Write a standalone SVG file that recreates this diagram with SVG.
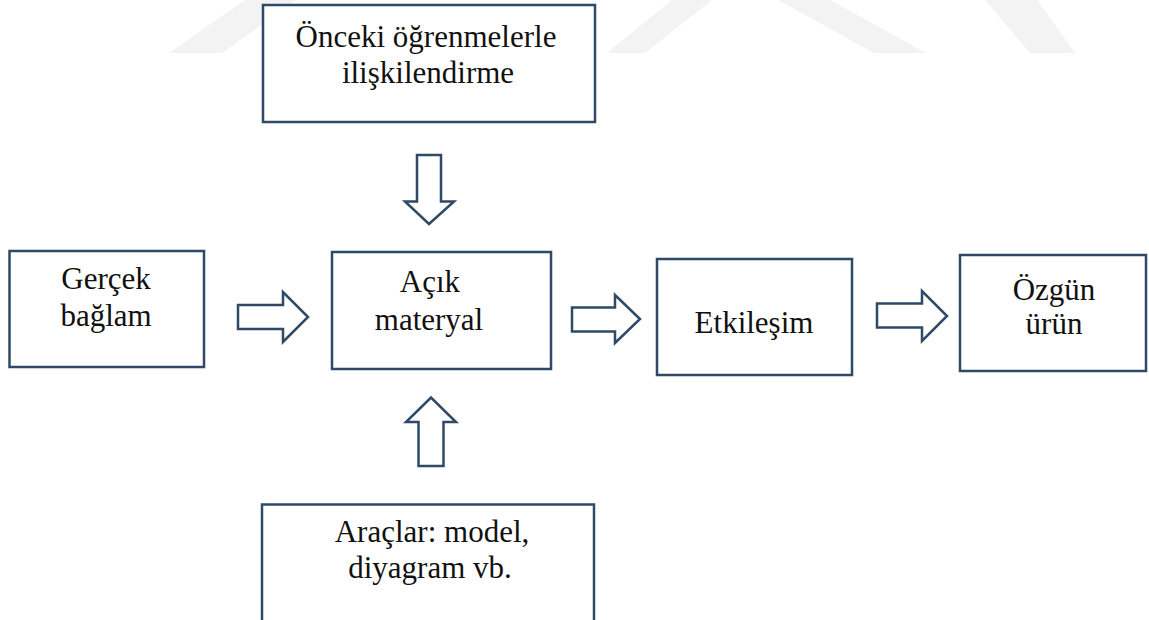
<svg xmlns="http://www.w3.org/2000/svg" width="1149" height="620" viewBox="0 0 1149 620">
  <style>
    .box { fill: #ffffff; stroke: #2E4A66; stroke-width: 2.5; }
    .arrow { fill: #ffffff; stroke: #2E4A66; stroke-width: 2.5; stroke-linejoin: miter; }
    .lbl { font-family: "Liberation Serif", "Times New Roman", serif; font-size: 31px; fill: #111111; text-anchor: middle; }
    .wm { fill: #F3F3F3; }
  </style>
  <rect width="1149" height="620" fill="#ffffff"/>
  <g id="watermark">
    <polygon class="wm" points="169,53 222,53 296,0 245,0"/>
    <polygon class="wm" points="607,53 645,53 712,0 672,0"/>
    <polygon class="wm" points="778,0 830,0 926,53 874,53"/>
    <polygon class="wm" points="985,0 1037,0 1075,53 1030,53"/>
  </g>
  <g id="connectors">
    <polygon class="arrow" points="417,155 441,155 441,201.5 454,201.5 429,224 405,201.5 417,201.5"/>
    <polygon class="arrow" points="418.5,466 443.5,466 443.5,422 456,422 431,397.5 406,422 418.5,422"/>
    <polygon class="arrow" points="238,305 283,305 283,292 308,317 283,342 283,329 238,329"/>
    <polygon class="arrow" points="572,307.5 615,307.5 615,295 640,319 615,343 615,331.5 572,331.5"/>
    <polygon class="arrow" points="877,303.5 922,303.5 922,291 947,316 922,341 922,327.5 877,327.5"/>
  </g>
  <g id="node-onceki">
    <rect class="box" x="263" y="5" width="332" height="117"/>
    <text class="lbl" x="426" y="47">Önceki öğrenmelerle</text>
    <text class="lbl" x="428" y="83">ilişkilendirme</text>
  </g>
  <g id="node-gercek">
    <rect class="box" x="9.5" y="251" width="194.5" height="116"/>
    <text class="lbl" x="106" y="289">Gerçek</text>
    <text class="lbl" x="106" y="326">bağlam</text>
  </g>
  <g id="node-acik">
    <rect class="box" x="332" y="252" width="219" height="117"/>
    <text class="lbl" x="430" y="292">Açık</text>
    <text class="lbl" x="429" y="330">materyal</text>
  </g>
  <g id="node-etkilesim">
    <rect class="box" x="657" y="259" width="195" height="116"/>
    <text class="lbl" x="754" y="333">Etkileşim</text>
  </g>
  <g id="node-ozgun">
    <rect class="box" x="960" y="255" width="186" height="116"/>
    <text class="lbl" x="1054" y="300">Özgün</text>
    <text class="lbl" x="1054" y="334">ürün</text>
  </g>
  <g id="node-araclar">
    <rect class="box" x="262" y="504.5" width="332" height="130"/>
    <text class="lbl" x="432" y="542">Araçlar: model,</text>
    <text class="lbl" x="430" y="578">diyagram vb.</text>
  </g>
</svg>
